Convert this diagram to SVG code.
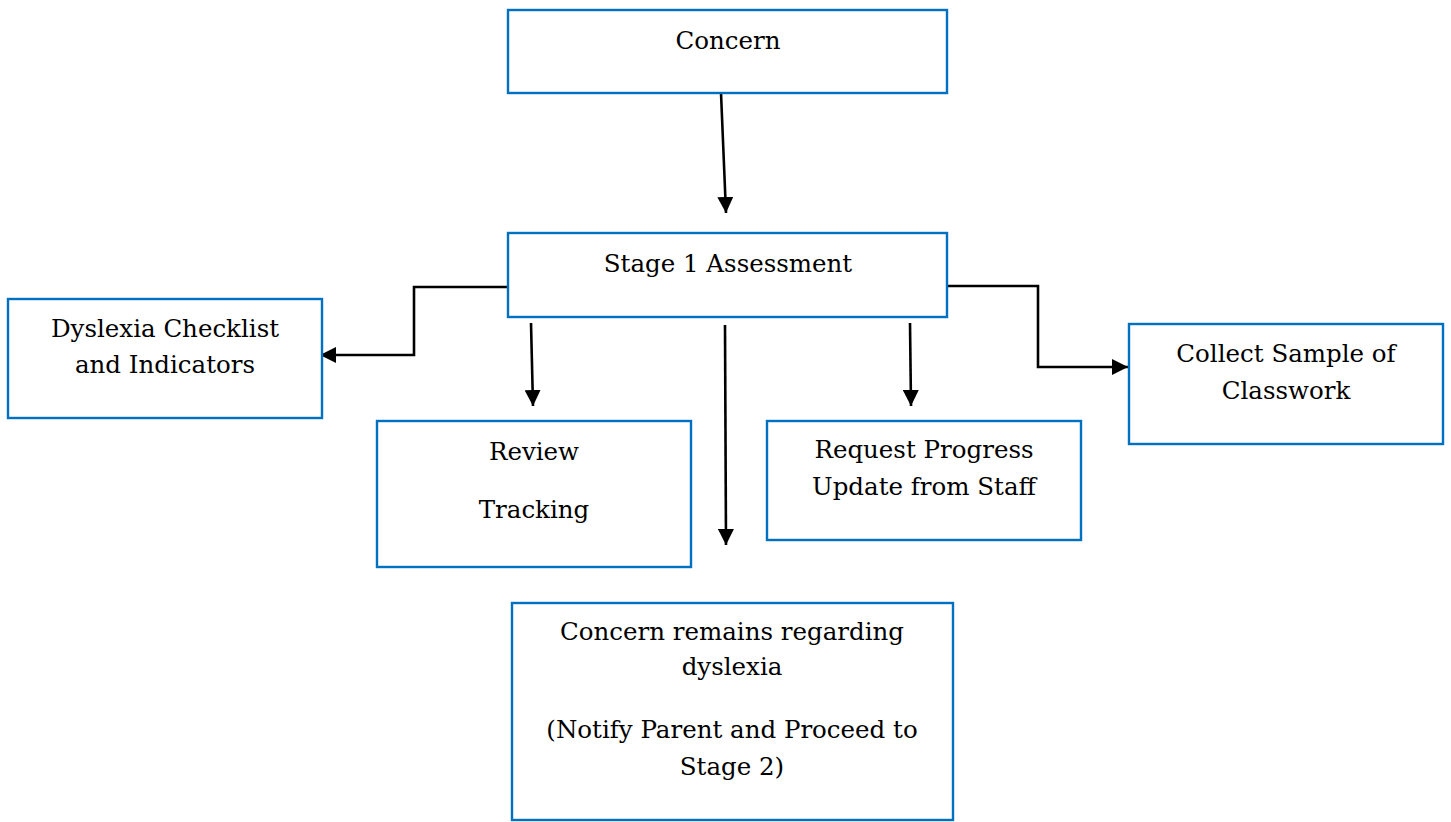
<svg xmlns="http://www.w3.org/2000/svg" width="1451" height="822" viewBox="0 0 1451 822">
<style>
.box{fill:#fff;stroke:#0070C0;stroke-width:2.4}
.t{font-family:"DejaVu Serif","Liberation Serif",serif;font-size:24.5px;fill:#000;text-anchor:middle}
.c{fill:none;stroke:#000;stroke-width:2.6}
</style>
<defs>
<marker id="ah" viewBox="0 0 16 16" refX="16" refY="8" markerWidth="16" markerHeight="16" markerUnits="userSpaceOnUse" orient="auto">
<path d="M0,0 L16,8 L0,16 z" fill="#000"/>
</marker>
</defs>
<rect width="1451" height="822" fill="#fff"/>
<g id="connectors">
<path class="c" d="M721,93 L726,213" marker-end="url(#ah)"/>
<path class="c" d="M508,287 H414 V355 H320" marker-end="url(#ah)"/>
<path class="c" d="M531,323 L533,406" marker-end="url(#ah)"/>
<path class="c" d="M725,325 L726,545" marker-end="url(#ah)"/>
<path class="c" d="M910,323 L911,406" marker-end="url(#ah)"/>
<path class="c" d="M947,286 H1038 V367 H1128" marker-end="url(#ah)"/>
</g>
<g id="concern">
<rect class="box" x="508" y="10" width="439" height="83"/>
<text class="t" x="728" y="49">Concern</text>
</g>
<g id="stage1">
<rect class="box" x="508" y="233" width="439" height="84"/>
<text class="t" x="728" y="272">Stage 1 Assessment</text>
</g>
<g id="dyslexia-checklist">
<rect class="box" x="8" y="299" width="314" height="119"/>
<text class="t" x="165" y="337">Dyslexia Checklist</text>
<text class="t" x="165" y="373">and Indicators</text>
</g>
<g id="review-tracking">
<rect class="box" x="377" y="421" width="314" height="146"/>
<text class="t" x="534" y="460">Review</text>
<text class="t" x="534" y="518">Tracking</text>
</g>
<g id="request-progress">
<rect class="box" x="767" y="421" width="314" height="119"/>
<text class="t" x="924" y="458">Request Progress</text>
<text class="t" x="924" y="495">Update from Staff</text>
</g>
<g id="collect-sample">
<rect class="box" x="1129" y="324" width="314" height="120"/>
<text class="t" x="1286" y="362">Collect Sample of</text>
<text class="t" x="1286" y="399">Classwork</text>
</g>
<g id="concern-remains">
<rect class="box" x="512" y="603" width="441" height="217"/>
<text class="t" x="732" y="640">Concern remains regarding</text>
<text class="t" x="732" y="675">dyslexia</text>
<text class="t" x="732" y="738">(Notify Parent and Proceed to</text>
<text class="t" x="732" y="775">Stage 2)</text>
</g>
</svg>
